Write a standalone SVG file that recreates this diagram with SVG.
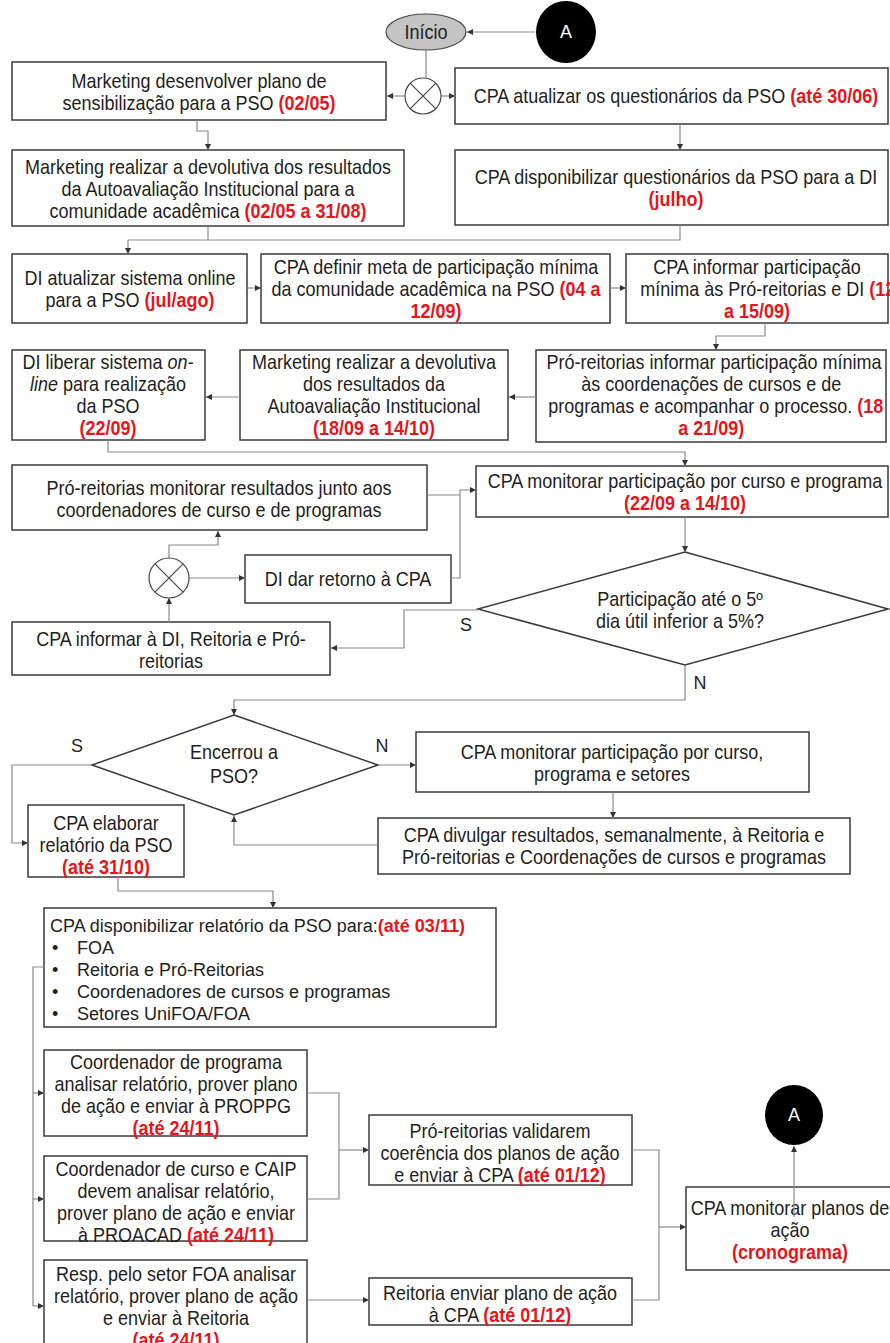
<svg xmlns="http://www.w3.org/2000/svg" width="890" height="1343" viewBox="0 0 890 1343">
<style>
.b{fill:#fff;stroke:#3a3a3a;stroke-width:1.5}
.t{font-family:"Liberation Sans Narrow","Arial Narrow","Liberation Sans",Arial,sans-serif;font-size:20px;text-anchor:middle;fill:#1e1e1e}
.s{font-family:"Liberation Sans",Arial,sans-serif;font-size:18px;text-anchor:middle;fill:#1e1e1e}
.l{font-family:"Liberation Sans",Arial,sans-serif;font-size:18px;fill:#1e1e1e}
.r{fill:#e8141c;font-weight:bold}
.w{fill:#fff}
.c{fill:none;stroke:#8a8a8a;stroke-width:1.2}
.a{marker-end:url(#ah)}
.x{fill:#fff;stroke:#444;stroke-width:1.2}
.k{stroke:#444;stroke-width:1.2}
</style>
<defs>
<marker id="ah" viewBox="0 0 6 6" refX="6" refY="3" markerWidth="6" markerHeight="6" orient="auto" markerUnits="userSpaceOnUse">
<path d="M0,0 L6,3 L0,6 z" fill="#333"/>
</marker>
</defs>
<rect width="890" height="1343" fill="#fff"/>

<g id="inicio">
<ellipse cx="426" cy="32" rx="40" ry="18" fill="#c4c4c4" stroke="#444" stroke-width="1.2"/>
<g transform="matrix(0.9 0 0 1 426 0)"><text class="t" x="0" y="39">Início</text></g>
</g>
<g id="conectorA-topo">
<ellipse cx="566" cy="32" rx="30" ry="31" fill="#000"/>
<text class="s w" x="566" y="38">A</text>
</g>
<g id="xor1">
<circle class="x" cx="423" cy="96" r="18"/>
<path class="k" d="M410.3,83.3 L435.7,108.7 M435.7,83.3 L410.3,108.7"/>
</g>

<g id="n1">
<rect class="b" x="12" y="62" width="374" height="58"/>
<g transform="matrix(0.9 0 0 1 199 0)">
<text class="t" x="0" y="88">Marketing desenvolver plano de</text>
<text class="t" x="0" y="110">sensibilização para a PSO <tspan class="r">(02/05)</tspan></text>
</g>
</g>
<g id="n2">
<rect class="b" x="455" y="68" width="433" height="56"/>
<g transform="matrix(0.9 0 0 1 676 0)">
<text class="t" x="0" y="103">CPA atualizar os questionários da PSO <tspan class="r">(até 30/06)</tspan></text>
</g>
</g>
<g id="n3">
<rect class="b" x="12" y="150" width="392" height="76"/>
<g transform="matrix(0.9 0 0 1 208 0)">
<text class="t" x="0" y="174">Marketing realizar a devolutiva dos resultados</text>
<text class="t" x="0" y="196">da Autoavaliação Institucional para a</text>
<text class="t" x="0" y="218">comunidade acadêmica <tspan class="r">(02/05 a 31/08)</tspan></text>
</g>
</g>
<g id="n4">
<rect class="b" x="455" y="150" width="433" height="75"/>
<g transform="matrix(0.9 0 0 1 676 0)">
<text class="t" x="0" y="184">CPA disponibilizar questionários da PSO para a DI</text>
<text class="t" x="0" y="206"><tspan class="r">(julho)</tspan></text>
</g>
</g>
<g id="n5">
<rect class="b" x="12" y="254" width="235" height="69"/>
<g transform="matrix(0.9 0 0 1 130 0)">
<text class="t" x="0" y="285">DI atualizar sistema online</text>
<text class="t" x="0" y="307">para a PSO <tspan class="r">(jul/ago)</tspan></text>
</g>
</g>
<g id="n6">
<rect class="b" x="261" y="254" width="349" height="69"/>
<g transform="matrix(0.9 0 0 1 436 0)">
<text class="t" x="0" y="274">CPA definir meta de participação mínima</text>
<text class="t" x="0" y="296">da comunidade acadêmica na PSO <tspan class="r">(04 a</tspan></text>
<text class="t" x="0" y="318"><tspan class="r">12/09)</tspan></text>
</g>
</g>
<g id="n7">
<rect class="b" x="626" y="254" width="262" height="69"/>
<g transform="matrix(0.9 0 0 1 757 0)">
<text class="t" x="0" y="274">CPA informar participação</text>
<text class="t" x="12" y="296">mínima às Pró-reitorias e DI <tspan class="r">(12</tspan></text>
<text class="t" x="0" y="318"><tspan class="r">a 15/09)</tspan></text>
</g>
</g>
<g id="n8">
<rect class="b" x="536" y="350" width="350" height="92"/>
<g transform="matrix(0.9 0 0 1 714 0)">
<text class="t" x="0" y="369">Pró-reitorias informar participação mínima</text>
<text class="t" x="-3" y="391">às coordenações de cursos e de</text>
<text class="t" x="2" y="413">programas e acompanhar o processo. <tspan class="r">(18</tspan></text>
<text class="t" x="-3" y="435"><tspan class="r">a 21/09)</tspan></text>
</g>
</g>
<g id="n9">
<rect class="b" x="240" y="350" width="268" height="90"/>
<g transform="matrix(0.9 0 0 1 374 0)">
<text class="t" x="0" y="369">Marketing realizar a devolutiva</text>
<text class="t" x="0" y="391">dos resultados da</text>
<text class="t" x="0" y="413">Autoavaliação Institucional</text>
<text class="t" x="0" y="435"><tspan class="r">(18/09 a 14/10)</tspan></text>
</g>
</g>
<g id="n10">
<rect class="b" x="12" y="350" width="193" height="90"/>
<g transform="matrix(0.9 0 0 1 108 0)">
<text class="t" x="0" y="369">DI liberar sistema <tspan font-style="italic">on-</tspan></text>
<text class="t" x="0" y="391"><tspan font-style="italic">line</tspan> para realização</text>
<text class="t" x="0" y="413">da PSO</text>
<text class="t" x="0" y="435"><tspan class="r">(22/09)</tspan></text>
</g>
</g>
<g id="n11">
<rect class="b" x="476" y="466" width="412" height="51"/>
<g transform="matrix(0.9 0 0 1 685 0)">
<text class="t" x="0" y="488">CPA monitorar participação por curso e programa</text>
<text class="t" x="0" y="510"><tspan class="r">(22/09 a 14/10)</tspan></text>
</g>
</g>
<g id="n12">
<rect class="b" x="12" y="465" width="415" height="65"/>
<g transform="matrix(0.9 0 0 1 219 0)">
<text class="t" x="0" y="495">Pró-reitorias monitorar resultados junto aos</text>
<text class="t" x="0" y="517">coordenadores de curso e de programas</text>
</g>
</g>
<g id="n13">
<rect class="b" x="245" y="555" width="206" height="48"/>
<g transform="matrix(0.9 0 0 1 348 0)">
<text class="t" x="0" y="586">DI dar retorno à CPA</text>
</g>
</g>
<g id="xor2">
<circle class="x" cx="169" cy="578" r="20"/>
<path class="k" d="M154.9,563.9 L183.1,592.1 M183.1,563.9 L154.9,592.1"/>
</g>
<g id="n14">
<rect class="b" x="12" y="622" width="318" height="53"/>
<g transform="matrix(0.9 0 0 1 171 0)">
<text class="t" x="0" y="646">CPA informar à DI, Reitoria e Pró-</text>
<text class="t" x="0" y="668">reitorias</text>
</g>
</g>
<g id="d1">
<path class="b" d="M685,552 L888,609 L685,665 L478,609 Z"/>
<g transform="matrix(0.9 0 0 1 680 0)">
<text class="t" x="0" y="606">Participação até o 5º</text>
<text class="t" x="0" y="628">dia útil inferior a 5%?</text>
</g>
<text class="s" x="466" y="631">S</text>
<text class="s" x="700" y="689">N</text>
</g>
<g id="d2">
<path class="b" d="M234,715 L378,765 L234,815 L92,765 Z"/>
<g transform="matrix(0.9 0 0 1 234 0)">
<text class="t" x="0" y="759">Encerrou a</text>
<text class="t" x="0" y="783">PSO?</text>
</g>
<text class="s" x="77" y="752">S</text>
<text class="s" x="382" y="752">N</text>
</g>
<g id="n15">
<rect class="b" x="416" y="732" width="393" height="60"/>
<g transform="matrix(0.9 0 0 1 612 0)">
<text class="t" x="0" y="759">CPA monitorar participação por curso,</text>
<text class="t" x="0" y="781">programa e setores</text>
</g>
</g>
<g id="n16">
<rect class="b" x="378" y="818" width="472" height="56"/>
<g transform="matrix(0.9 0 0 1 614 0)">
<text class="t" x="0" y="842">CPA divulgar resultados, semanalmente, à Reitoria e</text>
<text class="t" x="0" y="864">Pró-reitorias e Coordenações de cursos e programas</text>
</g>
</g>
<g id="n17">
<rect class="b" x="28" y="805" width="156" height="72"/>
<g transform="matrix(0.9 0 0 1 106 0)">
<text class="t" x="0" y="830">CPA elaborar</text>
<text class="t" x="0" y="852">relatório da PSO</text>
<text class="t" x="0" y="874"><tspan class="r">(até 31/10)</tspan></text>
</g>
</g>
<g id="n18">
<rect class="b" x="44" y="908" width="452" height="119"/>
<text class="l" x="50" y="932">CPA disponibilizar relatório da PSO para:<tspan class="r">(até 03/11)</tspan></text>
<text class="l" x="52" y="954">•</text><text class="l" x="77" y="954">FOA</text>
<text class="l" x="52" y="976">•</text><text class="l" x="77" y="976">Reitoria e Pró-Reitorias</text>
<text class="l" x="52" y="998">•</text><text class="l" x="77" y="998">Coordenadores de cursos e programas</text>
<text class="l" x="52" y="1020">•</text><text class="l" x="77" y="1020">Setores UniFOA/FOA</text>
</g>
<g id="n19">
<rect class="b" x="44" y="1050" width="263" height="86"/>
<g transform="matrix(0.9 0 0 1 176 0)">
<text class="t" x="0" y="1069">Coordenador de programa</text>
<text class="t" x="0" y="1091">analisar relatório, prover plano</text>
<text class="t" x="0" y="1113">de ação e enviar à PROPPG</text>
<text class="t" x="0" y="1135"><tspan class="r">(até 24/11)</tspan></text>
</g>
</g>
<g id="n20">
<rect class="b" x="44" y="1156" width="263" height="85"/>
<g transform="matrix(0.9 0 0 1 176 0)">
<text class="t" x="0" y="1176">Coordenador de curso e CAIP</text>
<text class="t" x="0" y="1198">devem analisar relatório,</text>
<text class="t" x="0" y="1220">prover plano de ação e enviar</text>
<text class="t" x="0" y="1242">à PROACAD <tspan class="r">(até 24/11)</tspan></text>
</g>
</g>
<g id="n21">
<rect class="b" x="44" y="1260" width="263" height="95"/>
<g transform="matrix(0.9 0 0 1 176 0)">
<text class="t" x="0" y="1281">Resp. pelo setor FOA analisar</text>
<text class="t" x="0" y="1303">relatório, prover plano de ação</text>
<text class="t" x="0" y="1325">e enviar à Reitoria</text>
<text class="t" x="0" y="1347"><tspan class="r">(até 24/11)</tspan></text>
</g>
</g>
<g id="n22">
<rect class="b" x="369" y="1115" width="263" height="70"/>
<g transform="matrix(0.9 0 0 1 500 0)">
<text class="t" x="0" y="1138">Pró-reitorias validarem</text>
<text class="t" x="0" y="1160">coerência dos planos de ação</text>
<text class="t" x="0" y="1182">e enviar à CPA <tspan class="r">(até 01/12)</tspan></text>
</g>
</g>
<g id="n23">
<rect class="b" x="369" y="1278" width="263" height="47"/>
<g transform="matrix(0.9 0 0 1 500 0)">
<text class="t" x="0" y="1300">Reitoria enviar plano de ação</text>
<text class="t" x="0" y="1322">à CPA <tspan class="r">(até 01/12)</tspan></text>
</g>
</g>
<g id="n24">
<rect class="b" x="686" y="1187" width="210" height="83"/>
<g transform="matrix(0.9 0 0 1 790 0)">
<text class="t" x="0" y="1215">CPA monitorar planos de</text>
<text class="t" x="0" y="1237">ação</text>
<text class="t" x="0" y="1259"><tspan class="r">(cronograma)</tspan></text>
</g>
</g>
<g id="conectorA-fim">
<ellipse cx="794" cy="1115" rx="29" ry="30" fill="#000"/>
<text class="s w" x="794" y="1121">A</text>
</g>

<g id="connectors">
<path class="c a" d="M535,32 H467"/>
<path class="c" d="M426,50 V78"/>
<path class="c a" d="M405,96 H387"/>
<path class="c a" d="M441,96 H455"/>
<path class="c a" d="M197,120 V131 H208 V150"/>
<path class="c a" d="M680,124 V150"/>
<path class="c" d="M208,226 V240"/>
<path class="c" d="M680,225 V240 H128"/>
<path class="c a" d="M128,240 V254"/>
<path class="c a" d="M247,288 H261"/>
<path class="c a" d="M610,288 H626"/>
<path class="c a" d="M765,323 V336 H716 V350"/>
<path class="c a" d="M536,397 H509"/>
<path class="c a" d="M240,397 H206"/>
<path class="c a" d="M108,440 V452 H685 V466"/>
<path class="c" d="M427,495 H460"/>
<path class="c a" d="M451,578 H460 V490 H476"/>
<path class="c a" d="M169,558 V545 H218 V531"/>
<path class="c a" d="M189,578 H245"/>
<path class="c a" d="M169,622 V598"/>
<path class="c a" d="M685,517 V552"/>
<path class="c a" d="M478,610 H404 V648 H331"/>
<path class="c a" d="M685,665 V700 H234 V715"/>
<path class="c a" d="M378,765 H416"/>
<path class="c a" d="M613,792 V818"/>
<path class="c a" d="M378,845 H234 V816"/>
<path class="c a" d="M92,765 H12 V843 H28"/>
<path class="c a" d="M118,877 V891 H273 V908"/>
<path class="c" d="M44,967 H33 V1306"/>
<path class="c a" d="M33,1093 H44"/>
<path class="c a" d="M33,1199 H44"/>
<path class="c a" d="M33,1306 H44"/>
<path class="c" d="M307,1093 H339 V1199 H307"/>
<path class="c a" d="M339,1150 H369"/>
<path class="c a" d="M307,1300 H369"/>
<path class="c" d="M632,1150 H659 V1300 H632"/>
<path class="c a" d="M659,1227 H686"/>
<path class="c a" d="M794,1217 V1146"/>
</g>
</svg>
